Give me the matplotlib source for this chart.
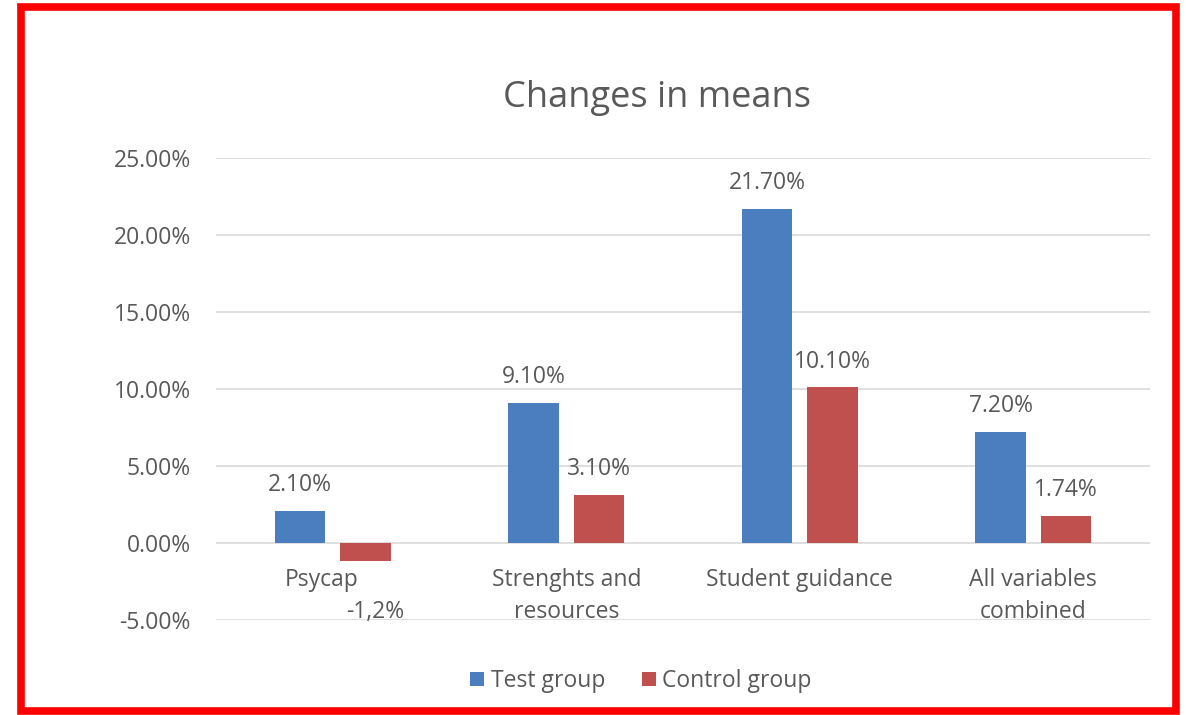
import matplotlib
matplotlib.use("Agg")
import matplotlib.pyplot as plt
from matplotlib.patches import Rectangle
import numpy as np

categories = ["Psycap", "Strenghts and\nresources", "Student guidance", "All variables\ncombined"]
test_group = [2.10, 9.10, 21.70, 7.20]
control_group = [-1.2, 3.10, 10.10, 1.74]
test_labels = ["2.10%", "9.10%", "21.70%", "7.20%"]
control_labels = ["-1,2%", "3.10%", "10.10%", "1.74%"]
yticks = [-5, 0, 5, 10, 15, 20, 25]

plt.rcParams['font.family'] = ['Open Sans', 'DejaVu Sans']
W, H = 1186, 715
fig = plt.figure(figsize=(W/100, H/100), dpi=100)
ax = fig.add_axes([216/W, 1-620/H, (1150-216)/W, (620-158)/H])

blue = "#4A7EBF"
red = "#C0504D"
grey = "#595959"
fs = 16.5

x = np.arange(len(categories))
bw = 0.215
off = 0.14
ax.bar(x - off, test_group, bw, color=blue, label="Test group", zorder=3)
ax.bar(x + off, control_group, bw, color=red, label="Control group", zorder=3)

ax.set_xlim(-0.5, 3.5)
ax.set_ylim(-5, 25)
ax.set_yticks(yticks)
ax.set_yticklabels([f"{v:.2f}%" for v in yticks], fontsize=fs, color=grey)
ax.tick_params(axis='y', length=0, pad=18)
ax.tick_params(axis='x', length=0)
ax.set_xticks([])
ax.grid(axis='y', color="#D9D9D9", linewidth=1.2, zorder=0)
for s in ax.spines.values():
    s.set_visible(False)

# category labels
for i, c in enumerate(categories):
    dx = -8 if i == 0 else 0
    ax.annotate(c, (i, 0), xytext=(dx, -18), textcoords='offset points',
                ha='center', va='top', fontsize=fs, color=grey, linespacing=1.42)

# data labels
for i, (v, t) in enumerate(zip(test_group, test_labels)):
    ax.annotate(t, (i - off, v), xytext=(0, 10), textcoords='offset points',
                ha='center', va='bottom', fontsize=fs, color=grey)
for i, (v, t) in enumerate(zip(control_group, control_labels)):
    if v >= 0:
        ax.annotate(t, (i + off, v), xytext=(0, 10), textcoords='offset points',
                    ha='center', va='bottom', fontsize=fs, color=grey)
    else:
        ax.annotate(t, (i + off, v), xytext=(7, -28), textcoords='offset points',
                    ha='center', va='top', fontsize=fs, color=grey)

ax.legend(loc='upper center', bbox_to_anchor=(0.455, -0.062), ncol=2, frameon=False,
          fontsize=fs, labelcolor=grey, handlelength=0.6, handleheight=0.6,
          handletextpad=0.3, columnspacing=1.6)

fig.suptitle("Changes in means", x=657/W, y=1-98/H, va='center', fontsize=26, color=grey)

fig.patches.append(Rectangle((21/W, 4/H), (1176-21)/W, (708-4)/H, transform=fig.transFigure,
                             fill=False, edgecolor="#FF0000", linewidth=5.5, zorder=10))

fig.savefig("out.png", dpi=100, facecolor="white")
